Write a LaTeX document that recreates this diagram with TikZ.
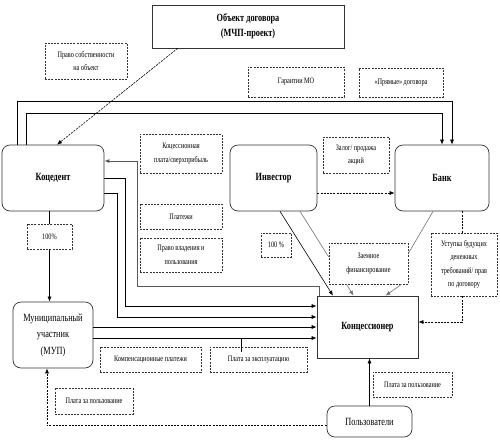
\documentclass[tikz,border=0pt]{standalone}
\usepackage{fontspec}
\setmainfont{Liberation Serif}[FakeStretch=0.75]
\usepackage{tikz}
\usetikzlibrary{arrows.meta,positioning,calc}

\begin{document}
\begin{tikzpicture}[
    x=1pt, y=-1pt,
    >={Latex[length=5pt,width=4pt]},
    party/.style={
        draw=black!80,
        rounded corners=8pt,
        line width=0.7pt,
        align=center,
        inner sep=1pt,
        font=\fontsize{11}{15}\selectfont\bfseries
    },
    plain/.style={
        draw=black!80,
        line width=0.7pt,
        align=center,
        inner sep=1pt,
        font=\fontsize{11}{15}\selectfont\bfseries
    },
    note/.style={
        draw=black!80,
        dash pattern=on 2pt off 1.2pt,
        line width=0.6pt,
        fill=white,
        align=center,
        inner sep=1pt,
        font=\fontsize{8.3}{13.5}\selectfont
    },
    arr/.style={->, line width=0.6pt},
    darr/.style={->, line width=0.6pt, dash pattern=on 2pt off 1.2pt},
    thin line/.style={line width=0.6pt, black!55}
]
\useasboundingbox (0,0) rectangle (500,445);

% top row
\node[plain, minimum width=192pt, minimum height=43pt] (obj) at (248,26.5)
{Объект договора\\(МЧП-проект)};
\node[note, minimum width=82pt, minimum height=36pt] (own) at (86,61)
{Право собственности\\на объект};
\node[note, minimum width=96pt, minimum height=30pt] (garant) at (296,82)
{Гарантии МО};
\node[note, minimum width=84pt, minimum height=29pt] (direct) at (401,82.5)
{«Прямые» договора};

% parties
\node[party, minimum width=102pt, minimum height=66pt] (koncedent) at (53,178)
{Коцедент};
\node[party, minimum width=87pt, minimum height=66pt] (investor) at (273.5,178)
{Инвестор};
\node[party, minimum width=94pt, minimum height=66pt] (bank) at (442,178)
{Банк};
\node[party, minimum width=80pt, minimum height=66pt, font=\fontsize{11}{16.5}\selectfont] (mup) at (53,335)
{Муниципальный\\участник\\(МУП)};
\node[plain, minimum width=101pt, minimum height=62pt] (conc) at (367.5,327)
{Концессионер};
\node[party, minimum width=85pt, minimum height=31pt, font=\fontsize{11}{15}\selectfont] (users) at (369.5,421.5)
{Пользователи};

% labels
\node[note, minimum width=82pt, minimum height=39pt] (fee) at (181,153.5)
{Коцессионная\\плата/сверхприбыль};
\node[note, minimum width=82pt, minimum height=25pt] (payments) at (181,216.5)
{Платежи};
\node[note, minimum width=82pt, minimum height=34pt] (possess) at (181,255)
{Право владения и\\пользования};
\node[note, minimum width=66pt, minimum height=36pt] (pledge) at (356,155)
{Залог/ продажа\\акций};
\node[note, minimum width=45pt, minimum height=25pt] (hundred) at (49.5,236.5)
{100\%};
\node[note, minimum width=30pt, minimum height=24pt] (hundredinv) at (276,245)
{100 \%};
\node[note, minimum width=79pt, minimum height=41pt] (loan) at (368.5,263.5)
{Заемное\\финансирование};
\node[note, minimum width=66pt, minimum height=63pt] (assign) at (464,264.5)
{Уступка будущих\\денежных\\требований/ прав\\по договору};
\node[note, minimum width=101pt, minimum height=25pt] (comp) at (150.5,359.5)
{Компенсационные платежи};
\node[note, minimum width=97pt, minimum height=25pt] (operate) at (258.5,359.5)
{Плата за эксплуатацию};
\node[note, minimum width=78pt, minimum height=26pt] (usefeemup) at (94,401)
{Плата за пользование};
\node[note, minimum width=79pt, minimum height=25pt] (usefeeconc) at (412.5,384.5)
{Плата за пользование};

% connectors
\draw[darr] ([xshift=26pt]obj.south west) -- ([xshift=4pt]koncedent.north);
\draw[arr] ([xshift=16pt]koncedent.north west) -- ++(0,-43) -| ([xshift=10pt]bank.north);
\draw[arr] ([xshift=25pt]koncedent.north west) -- ++(0,-31) -| (bank.north);

\draw[arr, black!65, line width=0.9pt] ([xshift=3pt]conc.north west) -- ++(0,-9) -| ([xshift=33pt,yshift=17pt]koncedent.east) -- ([yshift=17pt]koncedent.east);
\draw[arr] (koncedent.east) -- ++(21,0) |- ([yshift=21pt]conc.west);
\draw[arr] ([yshift=-15pt]koncedent.east) -- ++(13,0) |- ([yshift=10pt]conc.west);
\draw[arr] (conc.west -| mup.east) -- (conc.west);
\draw[arr] ([yshift=-11pt]conc.west -| mup.east) -- ([yshift=-11pt]conc.west);
\draw[line width=0.6pt] ([xshift=-17pt,yshift=-5pt]operate.north) -- ++(0,-14);

\draw[line width=0.6pt] (hundred.north) -- (hundred.north |- koncedent.south);
\draw[arr] (hundred.south) -- (hundred.south |- mup.north);

\draw[darr] ([yshift=-4pt]users.west) -| ([xshift=-6pt]mup.south);
\draw[arr] (users.north) -- (users.north |- conc.south);

\draw[darr] ([yshift=-15pt]investor.east) -- ([yshift=-15pt]bank.west);
\draw[arr] ([xshift=6.5pt]investor.south) -- ([xshift=-34.5pt]conc.north);
\draw[thin line] ([xshift=26.5pt]investor.south) -- ([yshift=6.5pt]loan.west);
\draw[thin line] ([xshift=-9pt]bank.south) -- ([yshift=10pt]loan.east);
\draw[->, thin line] ([xshift=-22pt]loan.south) -- ([xshift=-14pt]conc.north);
\draw[->, thin line] ([xshift=33pt]loan.south) -- ([xshift=18pt]conc.north);

\draw[line width=0.6pt, dash pattern=on 2pt off 1.2pt] ([xshift=20pt]bank.south) -- ([xshift=-2pt]assign.north);
\draw[darr] ([xshift=-2pt]assign.south) |- ([yshift=5pt]conc.east);

\end{tikzpicture}
\end{document}
